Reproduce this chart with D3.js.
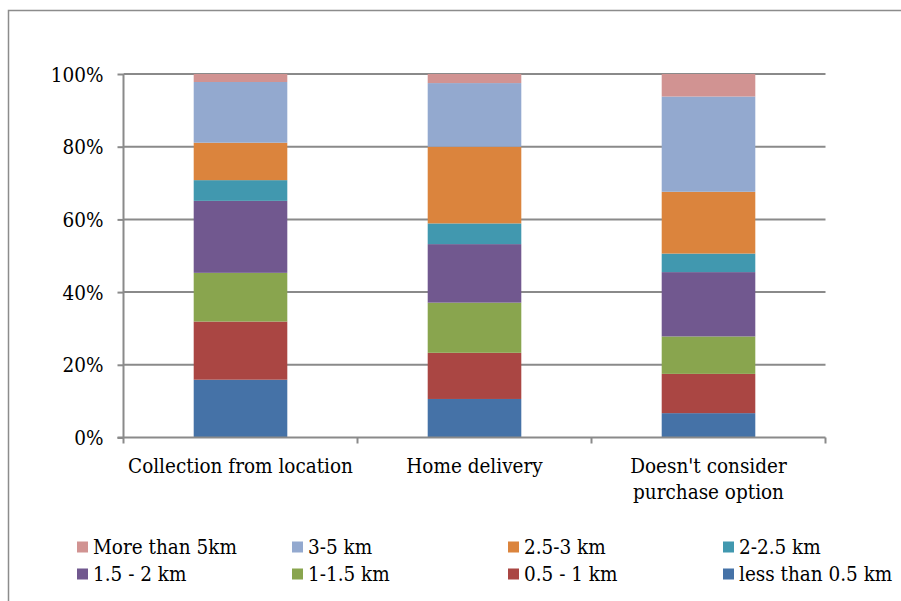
<!DOCTYPE html>
<html><head><meta charset="utf-8">
<script src="https://cdn.jsdelivr.net/npm/d3@7"></script>
<style>
html,body{margin:0;padding:0;background:#fff;}
svg{display:block;}
</style></head>
<body>
<svg id="chart" width="901" height="601"></svg>
<script>
const categories = ["Collection from location", "Home delivery", "Doesn't consider purchase option"];
const categoryLines = [["Collection from location"], ["Home delivery"], ["Doesn't consider", "purchase option"]];
const seriesNames = ["less than 0.5 km", "0.5 - 1 km", "1-1.5 km", "1.5 - 2 km", "2-2.5 km", "2.5-3 km", "3-5 km", "More than 5km"];
const lessThan05 = [15.9, 10.6, 6.7];
const from05to1 = [16.0, 12.7, 10.8];
const from1to15 = [13.4, 13.8, 10.3];
const from15to2 = [19.8, 16.1, 17.7];
const from2to25 = [5.7, 5.7, 5.1];
const from25to3 = [10.3, 21.1, 17.0];
const from3to5 = [16.7, 17.5, 26.2];
const moreThan5 = [2.2, 2.5, 6.2];
const yTicks = [0, 20, 40, 60, 80, 100];
const legendOrder = ["More than 5km", "3-5 km", "2.5-3 km", "2-2.5 km", "1.5 - 2 km", "1-1.5 km", "0.5 - 1 km", "less than 0.5 km"];
const colors = ["#4572A7", "#AA4643", "#89A54E", "#71588F", "#4198AF", "#DB843D", "#93A9CF", "#D19392"];

const FONT = "'DejaVu Serif Condensed', 'DejaVu Serif', serif";
const seriesValues = [lessThan05, from05to1, from1to15, from15to2, from2to25, from25to3, from3to5, moreThan5];
const rows = categories.map((c, i) => {
  const o = {category: c};
  seriesNames.forEach((s, j) => o[s] = seriesValues[j][i]);
  return o;
});
const stacked = d3.stack().keys(seriesNames).offset(d3.stackOffsetExpand)(rows);

const svg = d3.select("#chart");

// measure font so the reference label width (~225px for first category) is matched
const probe = svg.append("text").style("font-family", FONT).style("font-stretch", "condensed")
  .attr("font-size", 20).text("Collection from location");
const measured = probe.node().getComputedTextLength();
probe.remove();
const FS = Math.min(22, 20 * 225 / measured);

const mLeft = 123.5, mRight = 825.5, mTop = 74, mBottom = 437.5;

svg.append("rect").attr("x", 8.5).attr("y", 10.5).attr("width", 1000).attr("height", 1000)
  .attr("fill", "none").attr("stroke", "#8c8c8c").attr("stroke-width", 1.5);

const x = d3.scaleBand().domain(categories).range([mLeft, mRight]).paddingInner(0).paddingOuter(0);
const y = d3.scaleLinear().domain([0, 1]).range([mBottom, mTop]);
const bw = x.bandwidth() * 0.4;

svg.append("g").selectAll("line").data(yTicks.filter(t => t > 0)).join("line")
  .attr("x1", mLeft).attr("x2", mRight)
  .attr("y1", d => y(d / 100)).attr("y2", d => y(d / 100))
  .attr("stroke", "#8a8a8a").attr("stroke-width", 2);

const g = svg.append("g");
stacked.forEach((layer, j) => {
  g.append("g").attr("fill", colors[j]).selectAll("rect").data(layer).join("rect")
    .attr("x", d => x(d.data.category) + (x.bandwidth() - bw) / 2)
    .attr("width", bw)
    .attr("y", d => y(d[1]))
    .attr("height", d => y(d[0]) - y(d[1]));
});

const yAxis = d3.axisLeft(y).tickValues(yTicks.map(t => t / 100)).tickFormat(d => Math.round(d * 100) + "%").tickSize(6).tickPadding(14);
const ya = svg.append("g").attr("transform", `translate(${mLeft},0)`).call(yAxis);
ya.select(".domain").attr("stroke", "#8a8a8a").attr("stroke-width", 2).attr("d", `M0,${mTop}V${mBottom}`);
ya.selectAll(".tick line").attr("stroke", "#8a8a8a").attr("stroke-width", 2);
ya.selectAll(".tick text").attr("font-size", FS).attr("fill", "#000")
  .style("font-family", FONT).style("font-stretch", "condensed").attr("dy", "0.35em");

svg.append("line").attr("x1", mLeft - 6).attr("x2", mRight).attr("y1", mBottom).attr("y2", mBottom)
  .attr("stroke", "#8a8a8a").attr("stroke-width", 2);
const bounds = categories.map(c => x(c) + x.bandwidth());
svg.append("g").selectAll("line").data(bounds).join("line")
  .attr("x1", d => d).attr("x2", d => d).attr("y1", mBottom).attr("y2", mBottom + 6)
  .attr("stroke", "#8a8a8a").attr("stroke-width", 2);
svg.append("line").attr("x1", mLeft).attr("x2", mLeft).attr("y1", mBottom).attr("y2", mBottom + 6)
  .attr("stroke", "#8a8a8a").attr("stroke-width", 2);

categories.forEach((c, i) => {
  const t = svg.append("text").attr("text-anchor", "middle").attr("font-size", FS).attr("fill", "#000")
    .style("font-family", FONT).style("font-stretch", "condensed");
  categoryLines[i].forEach((ln, k) => {
    t.append("tspan").attr("x", x(c) + x.bandwidth() / 2).attr("y", 473 + k * 26).text(ln);
  });
});

const colX = [77, 292, 508, 723];
const rowY = [547, 574];
legendOrder.forEach((name, i) => {
  const col = i % 4, row = Math.floor(i / 4);
  const idx = seriesNames.indexOf(name);
  svg.append("rect").attr("x", colX[col]).attr("y", rowY[row] - 5.5).attr("width", 11).attr("height", 11).attr("fill", colors[idx]);
  svg.append("text").attr("x", colX[col] + 16).attr("y", rowY[row] + 7).attr("font-size", FS).attr("fill", "#000")
    .style("font-family", FONT).style("font-stretch", "condensed").text(name);
});
</script>
</body></html>
